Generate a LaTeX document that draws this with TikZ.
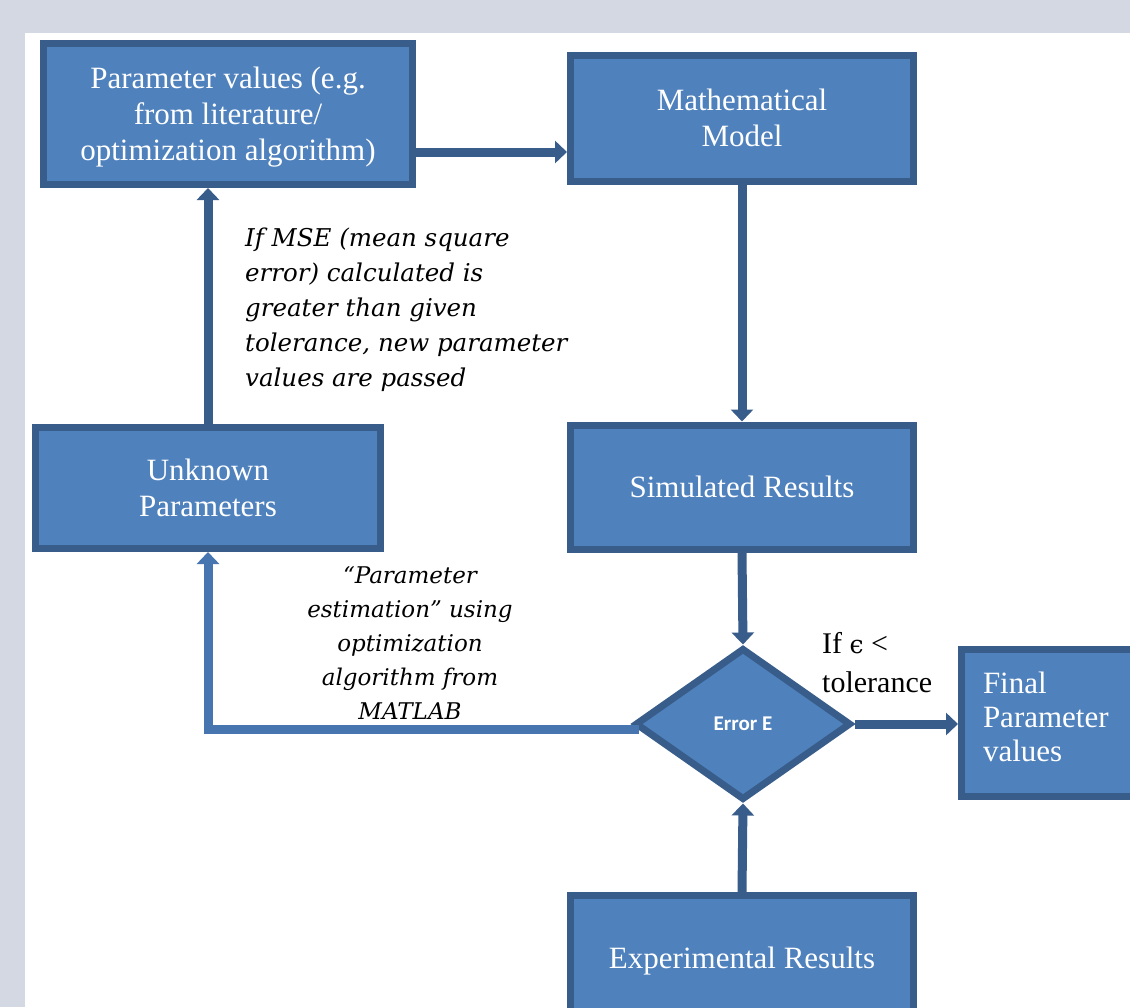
\documentclass[tikz,border=0pt]{standalone}
\usepackage{fontspec}
\setmainfont{Liberation Serif}
\newfontfamily\notefont{DejaVu Serif}
\newfontfamily\errfont{Carlito}
\usetikzlibrary{shapes.geometric,arrows.meta}
\definecolor{boxfill}{HTML}{4F81BD}
\definecolor{boxline}{HTML}{385D8A}
\definecolor{loopline}{HTML}{4675B0}
\definecolor{pagegray}{HTML}{D4D8E2}
\begin{document}
\begin{tikzpicture}[x=1pt,y=-1pt,
    box/.style={draw=boxline,fill=boxfill,line width=7pt,text=white,align=center,inner sep=0pt,font=\fontsize{31}{36}\selectfont},
    flow/.style={draw=boxline,line width=9pt,-{Triangle[width=22pt,length=12pt]}},
    note/.style={inner sep=0pt,text=black,font=\notefont\itshape\fontsize{24.5}{35}\selectfont}]
                \useasboundingbox (0,0) rectangle (1130,1007);
                \fill[pagegray] (0,0) rectangle (1130,1007);
                \fill[white] (25,33) rectangle (1130,1007);
                \clip (0,0) rectangle (1130,1007);
                %% blocks
                \node[box,minimum width=369pt,minimum height=141pt,text depth=0pt] (par) at (228,114) {Parameter values (e.g.\\from literature/\\optimization algorithm)};
                \node[box,minimum width=343pt,minimum height=126pt] (mod) at (742,118) {Mathematical\\Model};
                \node[box,minimum width=343pt,minimum height=124pt] (sim) at (742,487) {Simulated Results};
                \node[box,minimum width=345pt,minimum height=121pt] (unk) at (208,488) {Unknown\\Parameters};
                \node[box,minimum width=343pt,minimum height=131pt] (exp) at (742,961) {Experimental Results};
                \node[box,minimum width=185pt,minimum height=147pt,text width=142pt,text depth=80pt,align=left,font=\fontsize{31}{34}\selectfont] (fin) at (1054,723) {Final\\Parameter\\values};
                \node[box,diamond,minimum width=216pt,minimum height=152pt,font=\errfont\bfseries\fontsize{21}{24}\selectfont] (err) at (743,724) {Error E};
                %% labels
                \node[note,anchor=north west,align=left] (mse) at (245,228) {If MSE (mean square\\error) calculated is\\greater than given\\tolerance, new parameter\\values are passed};
                \node[note,anchor=north,align=center,font=\notefont\itshape\fontsize{23}{34}\selectfont] (est) at (410,566) {“Parameter\\estimation” using\\optimization\\algorithm from\\MATLAB};
                \node[inner sep=0pt,anchor=north west,align=left,font=\fontsize{30}{39}\selectfont] (tol) at (822,632) {If {\notefont\fontsize{25}{39}\selectfont ϵ} <\\tolerance};
                %% arrows
                \draw[flow] ([yshift=-38pt]par.east) -- ([yshift=-38pt]par.east -| mod.west);
                \draw[flow] (mod.south) -- (sim.north);
                \draw[flow] (sim.south) -- (err.north);
                \draw[flow] (exp.north) -- (err.south);
                \draw[flow] (err.east) -- (err.east -| fin.west);
                \draw[flow] (unk.north) -- (unk.north |- par.south);
                \draw[flow,draw=loopline] ([shift={(7,5)}]err.west) -| (unk.south);
            \end{tikzpicture}
\end{document}
